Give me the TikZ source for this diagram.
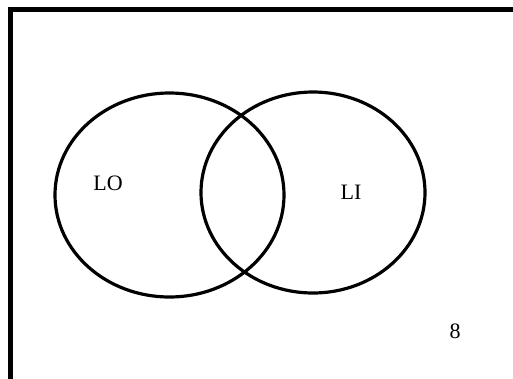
\documentclass[tikz,border=0pt]{standalone}
\usepackage{fontspec}
\setmainfont{Liberation Serif}
\begin{document}
\begin{tikzpicture}[x=1pt,y=-1pt,
  setline/.style={draw=black,line width=3.2pt},
  framebox/.style={draw=black,line width=5pt},
  lbl/.style={font=\fontsize{22}{24}\selectfont,inner sep=0pt}]
\useasboundingbox (0,0) rectangle (513,378);
\clip (0,0) rectangle (513,378);
\draw[framebox] (10.5,9) rectangle (540,400);
\draw[setline] (169.5,195) ellipse [x radius=114.5, y radius=102];
\draw[setline] (313,192.5) ellipse [x radius=112, y radius=100.5];
\node[lbl] (lo) at (108,183) {LO};
\node[lbl] (li) at (351,192) {LI};
\node[lbl] (n8) at (455,331) {8};
\end{tikzpicture}
\end{document}
